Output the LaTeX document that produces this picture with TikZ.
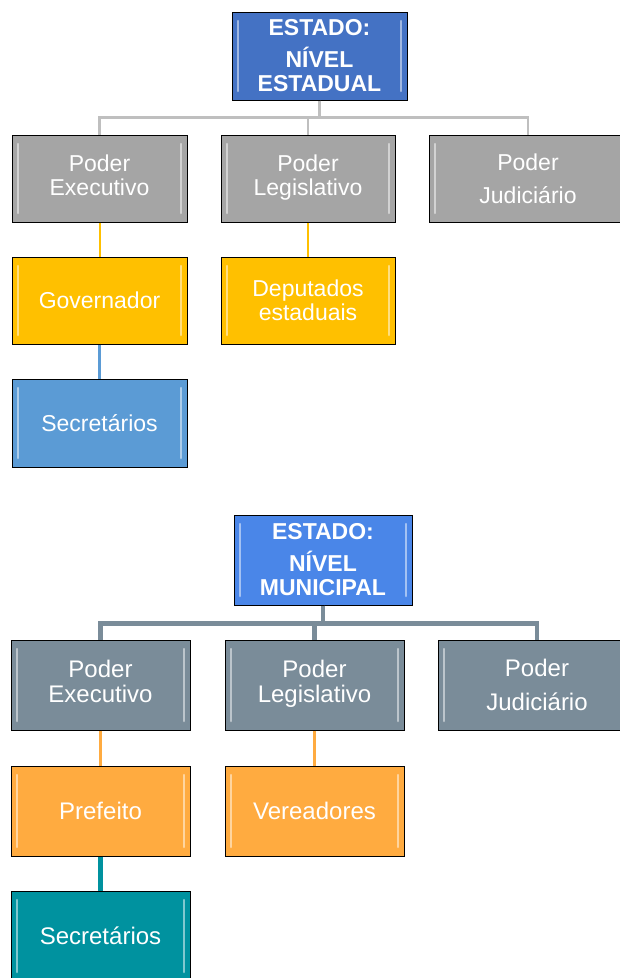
\documentclass[tikz,border=0pt]{standalone}
\usepackage{fontspec}
\setmainfont{Liberation Sans}
\usetikzlibrary{calc}

\definecolor{azulEst}{HTML}{4472C4}
\definecolor{cinzaEst}{HTML}{A5A5A5}
\definecolor{linhaEst}{HTML}{BFBFBF}
\definecolor{amareloEst}{HTML}{FFC000}
\definecolor{celesteEst}{HTML}{5B9BD5}
\definecolor{azulMun}{HTML}{4A86E8}
\definecolor{cinzaMun}{HTML}{7A8C99}
\definecolor{laranjaMun}{HTML}{FFAB40}
\definecolor{tealMun}{HTML}{00929F}

\begin{document}
\begin{tikzpicture}[
  x=1pt, y=1pt,
  orgbox/.style={rectangle, draw=black, line width=1pt, text=white,
                 align=center, minimum width=175pt, minimum height=87pt,
                 inner sep=2pt, font=\fontsize{23}{24}\selectfont,
                 path picture={
                   \draw[white, opacity=0.5, line width=2.5pt, line cap=round]
                     ([xshift=6pt,yshift=-9pt]path picture bounding box.north west)
                     -- ([xshift=6pt,yshift=9pt]path picture bounding box.south west);
                   \draw[white, opacity=0.5, line width=2.5pt, line cap=round]
                     ([xshift=-6pt,yshift=-9pt]path picture bounding box.north east)
                     -- ([xshift=-6pt,yshift=9pt]path picture bounding box.south east);
                 }},
  topbox/.style={orgbox, font=\fontsize{23}{24}\selectfont\bfseries},
  munbox/.style={orgbox, minimum width=179pt, minimum height=90pt,
                 font=\fontsize{24}{25}\selectfont},
  link/.style={line width=#1},
  link/.default=2.7pt
]
  \useasboundingbox (0,0) rectangle (620,-978);

  % nivel estadual
  \node[topbox, fill=azulEst, minimum height=88pt] (estEst) at (319.5,-56)
    {ESTADO:\\[8pt]NÍVEL\\ESTADUAL};
  \node[orgbox, fill=cinzaEst] (exeA) at (99.5,-178.5) {Poder\\Executivo\strut};
  \node[orgbox, fill=cinzaEst, minimum width=174pt] (legA) at (308,-178.5)
    {Poder\\Legislativo\strut};
  \node[orgbox, fill=cinzaEst, minimum width=198pt] (judA) at (528,-178.5)
    {Poder\\[9pt]Judiciário};
  \node[orgbox, fill=amareloEst] (govA) at (99.5,-300.5) {Governador};
  \node[orgbox, fill=amareloEst, minimum width=174pt] (depA) at (308,-300.5)
    {Deputados\\estaduais};
  \node[orgbox, fill=celesteEst, minimum height=88pt] (secA) at (99.5,-423)
    {Secretários};

  \draw[link, linhaEst] (estEst.south) -- ++(0,-17) -| (exeA.north);
  \draw[link, linhaEst] (estEst.south) -- ++(0,-17) -| (legA.north);
  \draw[link, linhaEst] (estEst.south) -- ++(0,-17) -| (judA.north);
  \draw[link=2pt, amareloEst] (exeA) -- (govA);
  \draw[link=2pt, amareloEst] (legA) -- (depA);
  \draw[link, celesteEst] (govA) -- (secA);

  % nivel municipal
  \node[munbox, fill=azulMun, minimum width=178pt, font=\fontsize{23}{24}\selectfont\bfseries]
    (estMun) at (323,-560) {ESTADO:\\[8pt]NÍVEL\\MUNICIPAL};
  \node[munbox, fill=cinzaMun] (exeB) at (100.5,-685) {Poder\\Executivo\strut};
  \node[munbox, fill=cinzaMun] (legB) at (314.5,-685) {Poder\\Legislativo\strut};
  \node[munbox, fill=cinzaMun, minimum width=198pt] (judB) at (537,-685)
    {Poder\\[9pt]Judiciário};
  \node[munbox, fill=laranjaMun] (prefB) at (100.5,-811) {Prefeito};
  \node[munbox, fill=laranjaMun] (verB) at (314.5,-811) {Vereadores};
  \node[munbox, fill=tealMun] (secB) at (100.5,-936) {Secretários};

  \draw[link=4.7pt, cinzaMun] (estMun.south) -- ++(0,-18) -| (exeB.north);
  \draw[link=4.7pt, cinzaMun] (estMun.south) -- ++(0,-18) -| (legB.north);
  \draw[link=4.7pt, cinzaMun] (estMun.south) -- ++(0,-18) -| (judB.north);
  \draw[link=3pt, laranjaMun] (exeB) -- (prefB);
  \draw[link=3pt, laranjaMun] (legB) -- (verB);
  \draw[link=4.7pt, tealMun] (prefB) -- (secB);
\end{tikzpicture}
\end{document}
